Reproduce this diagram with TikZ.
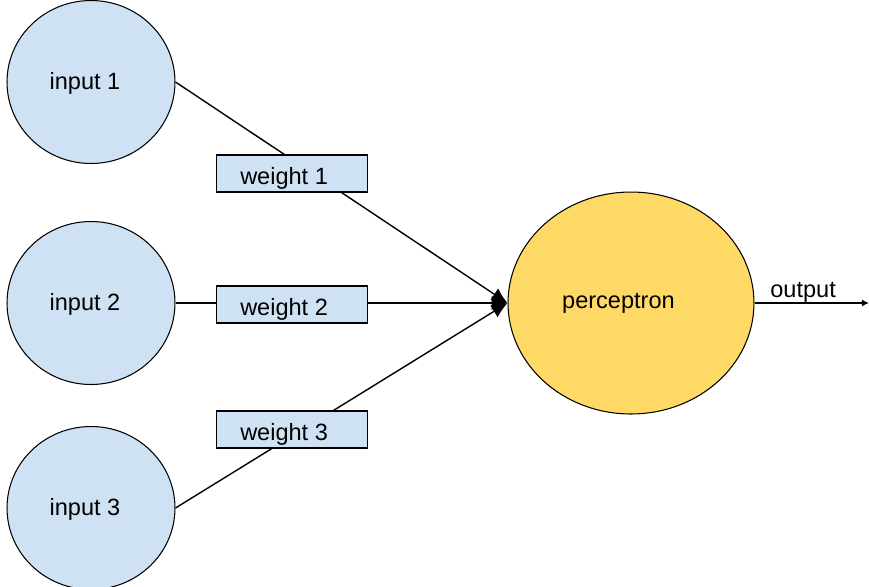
\documentclass[tikz,border=0pt]{standalone}
\usepackage{fontspec}
\setmainfont{Liberation Sans}
\usetikzlibrary{shapes.geometric,backgrounds,arrows.meta}
\definecolor{inblue}{RGB}{207,226,243}
\definecolor{percyellow}{RGB}{255,217,102}

\begin{document}
\begin{tikzpicture}[x=0.02cm,y=-0.02cm]
    \tikzstyle{every node}=[font=\fontsize{13.4}{16}\selectfont]
    \tikzset{
        inputnode/.style={ellipse, draw, line width=0.6pt, fill=inblue, minimum width=3.36cm, minimum height=3.26cm,
            text height=11.3pt, text depth=3pt, execute at end node={\hspace*{6.9pt}}},
        weightbox/.style={rectangle, draw, line width=0.6pt, fill=inblue, minimum width=3.02cm, minimum height=0.74cm, inner sep=0pt,
            text height=16pt, text depth=3pt, execute at end node={\hspace*{9pt}}},
        link/.style={line width=0.8pt}
    }
    \useasboundingbox (0,0) rectangle (869,586);

    % Inputs
    \node[inputnode] at (91,82) (in1) {input 1};
    \node[inputnode] at (91,303) (in2) {input 2};
    \node[inputnode] at (91,508) (in3) {input 3};

    % Perceptron
    \node[ellipse, draw, line width=0.6pt, fill=percyellow, minimum width=4.92cm, minimum height=4.44cm,
        text height=9pt, text depth=3pt, execute at end node={\hspace*{14.3pt}}] at (631,303) (perc) {perceptron};

    % Weights
    \node[weightbox] at (292,173.5) (w1) {weight 1};
    \node[weightbox] at (292,304.5) (w2) {weight 2};
    \node[weightbox] at (292,429.5) (w3) {weight 3};

    % Output
    \coordinate (out) at (869,303);
    \node[anchor=base west, inner sep=0pt] at (770,297) (outlabel) {output};

    % Links
    \begin{scope}[on background layer]
        \draw[link, -{Latex[length=9pt,width=8pt]}] (in1.east) -- (perc.west);
        \draw[link, -{Latex[length=9pt,width=8pt]}] (in2.east) -- (perc.west);
        \draw[link, -{Latex[length=9pt,width=8pt]}] (in3.east) -- (perc.west);
    \end{scope}
    \draw[link, -{Latex[length=4pt,width=4pt]}] (perc.east) -- (out);

\end{tikzpicture}
\end{document}
